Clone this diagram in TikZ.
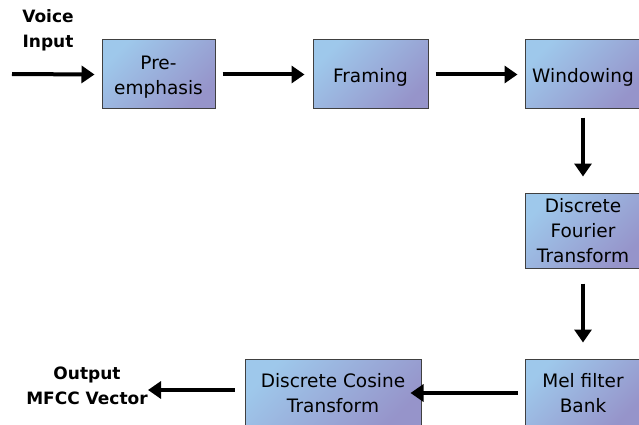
\documentclass[tikz,border=0pt]{standalone}
\usepackage{fontspec}
\setmainfont{DejaVu Sans}
\usetikzlibrary{arrows.meta}
\definecolor{boxtop}{RGB}{158,200,235}
\definecolor{boxbot}{RGB}{150,148,202}
\begin{document}
\begin{tikzpicture}[x=1pt,y=-1pt,
  stage/.style={draw=black!75,line width=1pt,top color=boxtop,bottom color=boxbot,shading angle=45,
    align=center,inner sep=0pt,font=\fontsize{18.5}{25}\selectfont},
  stagetext/.style={align=center,inner sep=0pt,yshift=-3pt,font=\fontsize{18.5}{25}\selectfont},
  flow/.style={line width=4pt,-{Triangle[length=13pt,width=17pt]}},
  lbl/.style={align=center,font=\bfseries\fontsize{17}{25}\selectfont}]
\useasboundingbox (0,0) rectangle (639,425);
\node[stage,minimum width=113,minimum height=69,label={[stagetext]center:{Pre-\\emphasis}}] (pre) at (158.5,74.5) {};
\node[stage,minimum width=115,minimum height=69,label={[stagetext]center:Framing}] (frm) at (370.5,74.5) {};
\node[stage,minimum width=116,minimum height=69,label={[stagetext]center:Windowing}] (win) at (583,74.5) {};
\node[stage,minimum width=116,minimum height=75] (dft) at (583,230.5) {Discrete\\Fourier\\Transform};
\node[stage,minimum width=116,minimum height=68] (mel) at (583,393) {Mel filter\\Bank};
\node[stage,minimum width=176,minimum height=68] (dct) at (333,393) {Discrete Cosine\\Transform};
\node[lbl] (vin) at (48,30) {Voice\\Input};
\node[lbl] (out) at (87,386) {Output\\MFCC Vector};
\coordinate (vs) at (12,74);
\coordinate (oe) at (148,390);
\draw[flow] (vs) -- ([xshift=-7]pre.west);
\draw[flow] ([xshift=7]pre.east) -- ([xshift=-8]frm.west);
\draw[flow] ([xshift=7]frm.east) -- ([xshift=-7]win.west);
\draw[flow] ([yshift=-8]win.south) -- ([yshift=16]dft.north);
\draw[flow] ([yshift=-15]dft.south) -- ([yshift=16]mel.north);
\draw[flow] ([xshift=-7]mel.west) -- ([xshift=-11]dct.east);
\draw[flow] ([xshift=-10]dct.west |- oe) -- (oe);
\end{tikzpicture}
\end{document}
